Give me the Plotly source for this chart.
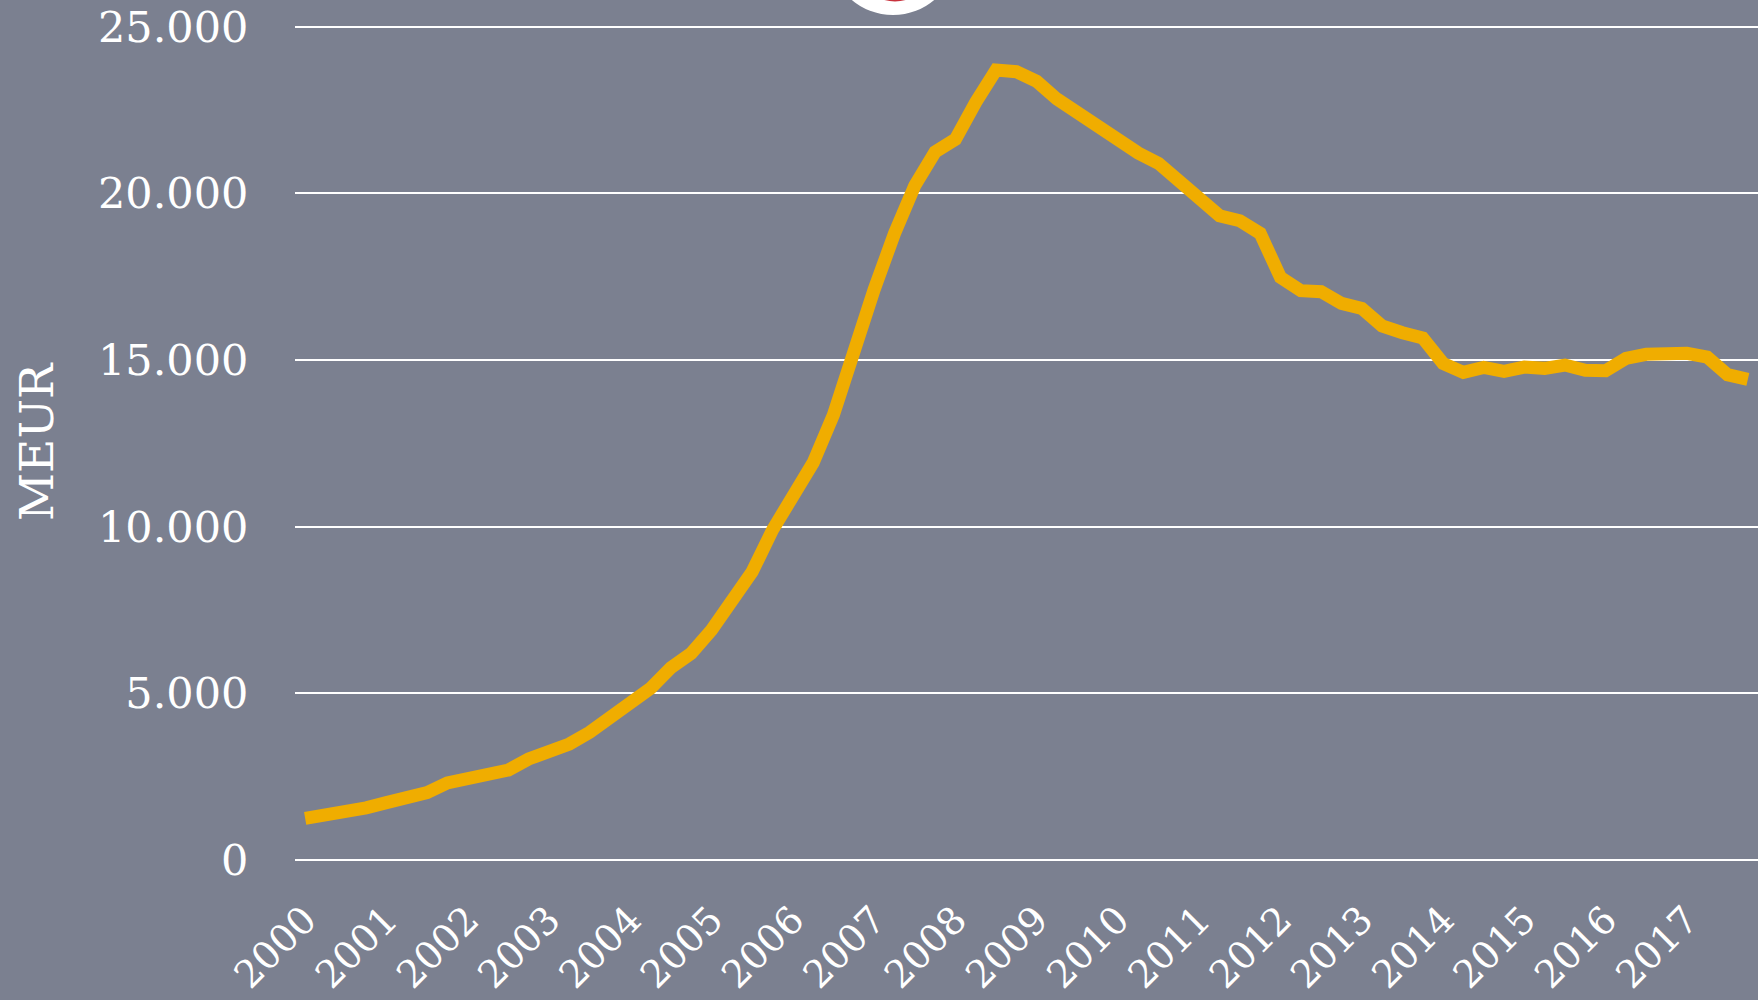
import plotly.graph_objects as go

# ---- data ----
years = [str(y) for y in range(2000, 2018)]
quarters = [f"{y}Q{q}" for y in years for q in range(1, 5)]
values = [
    1250, 1325, 1400, 1565, 1720, 1873, 2020, 2310, 2460, 2600,
    2700, 3030, 3257, 3480, 3830, 4300, 4715, 5150, 5770, 6200,
    6900, 7760, 8650, 9900, 10850, 11920, 13360, 15290, 17110, 18790,
    20230, 21240, 21620, 22730, 23700, 23650, 23360, 22830, 22440, 21950,
    21580, 21210, 20900, 20400, 19800, 19330, 19180, 18800, 17480, 17080,
    17050, 16700, 16550, 16020, 15820, 15660, 14900, 14630, 14780, 14660,
    14790, 14750, 14850, 14690, 14680, 15050, 15170, 15200, 15200, 15090,
    14560, 14420,
]
y_ticks = [0, 5000, 10000, 15000, 20000, 25000]
y_ticktext = ["0", "5.000", "10.000", "15.000", "20.000", "25.000"]
x_tickvals = [f"{y}Q1" for y in years]
y_title = "MEUR"

# ---- layout geometry (pixels) ----
W, H = 1758, 1000
L, R, T, B = 295, 0, 20, 140
pw, ph = W - L - R, H - T - B
y_max = 25000 * ph / (H - B - 26.7)  # keep 25.000 at y≈27 px, gridline visible

def px_x(p):
    return (p - L) / pw

def px_y(p):
    return (H - B - p) / ph

BG = "#7b8090"
FONT = "DejaVu Serif"

fig = go.Figure()
fig.add_trace(go.Scatter(
    x=quarters, y=values, mode="lines",
    line=dict(color="#F0AD00", width=13),
    hoverinfo="skip",
))

fig.update_layout(
    width=W, height=H,
    margin=dict(l=L, r=R, t=T, b=B, pad=0),
    paper_bgcolor=BG, plot_bgcolor=BG,
    showlegend=False,
    font=dict(family=FONT, color="white", size=40),
    xaxis=dict(
        type="category", categoryorder="array", categoryarray=quarters,
        range=[-0.5, len(quarters) - 0.5],
        tickmode="array", tickvals=x_tickvals, ticktext=years,
        tickangle=-45, showgrid=False, zeroline=False, showline=False,
        ticks="outside", ticklen=21, tickcolor="rgba(0,0,0,0)",
        tickfont=dict(family=FONT, size=38, color="white"),
        automargin=False, fixedrange=True,
    ),
    yaxis=dict(
        range=[0, y_max], tickmode="array", tickvals=y_ticks, ticktext=y_ticktext,
        showgrid=True, gridcolor="white", gridwidth=2,
        zeroline=True, zerolinecolor="white", zerolinewidth=2, showline=False,
        ticks="outside", ticklen=37, tickcolor="rgba(0,0,0,0)",
        tickfont=dict(family=FONT, size=43, color="white"),
        automargin=False, fixedrange=True,
    ),
)

fig.add_annotation(
    text=y_title, xref="paper", yref="paper",
    x=px_x(36), y=px_y(442), xanchor="center", yanchor="middle",
    textangle=-90, showarrow=False,
    font=dict(family=FONT, size=47, color="white"),
)

# logo circle partly visible at top
fig.add_shape(type="circle", xref="paper", yref="paper",
              x0=px_x(833), x1=px_x(953), y0=px_y(15), y1=px_y(-95),
              fillcolor="white", line=dict(width=0), layer="above")
fig.add_shape(type="circle", xref="paper", yref="paper",
              x0=px_x(860), x1=px_x(930), y0=px_y(1.5), y1=px_y(-62),
              fillcolor="#c8323c", line=dict(width=0), layer="above")

fig.write_html(
    "out.html",
    config={"displayModeBar": False},
    post_script="document.body.style.margin='0';document.body.style.overflow='hidden';",
)
